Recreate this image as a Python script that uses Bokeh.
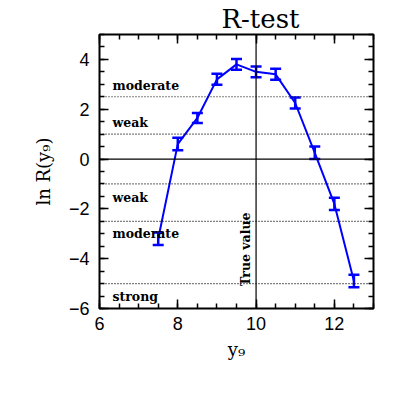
import numpy as np
from bokeh.plotting import figure
from bokeh.models import (ColumnDataSource, Whisker, Span, Label, LinearAxis,
                          SingleIntervalTicker, Range1d, TeeHead)
from bokeh.embed import file_html
from bokeh.resources import INLINE

# ---- data ----
y9 = [7.5, 8.0, 8.5, 9.0, 9.5, 10.0, 10.5, 11.0, 11.5, 12.0, 12.5]
lnR = [-3.2, 0.6, 1.65, 3.2, 3.8, 3.5, 3.4, 2.25, 0.25, -1.8, -4.9]
err = [0.25, 0.25, 0.2, 0.22, 0.22, 0.22, 0.22, 0.22, 0.25, 0.25, 0.25]

levels_dotted = [2.5, 1.0, -1.0, -2.5, -5.0]
strength_labels = ["moderate", "weak", "weak", "moderate", "strong"]
strength_y = [2.95, 1.45, -1.55, -3.0, -5.5]
true_value = 10.0

p = figure(width=390, height=390, output_backend="svg", toolbar_location=None,
           x_range=Range1d(6, 13), y_range=Range1d(-6, 5),
           min_border_left=99, min_border_right=17, min_border_top=34,
           min_border_bottom=82, title="R-test", title_location="above")
p.background_fill_color = "white"
p.border_fill_color = "white"
p.outline_line_color = "black"
p.outline_line_width = 2
p.xgrid.visible = False
p.ygrid.visible = False

p.title.text_font = "DejaVu Serif"
p.title.text_font_size = "26px"
p.title.text_font_style = "normal"
p.title.text_color = "black"
p.title.align = "left"
p.title.offset = 122
p.title.standoff = 2
p.title.text_line_height = 1.0

def style_axis(ax, show_labels=True):
    ax.ticker = SingleIntervalTicker(interval=2, num_minor_ticks=4)
    ax.major_tick_in = 9
    ax.major_tick_out = 0
    ax.minor_tick_in = 5
    ax.minor_tick_out = 0
    ax.major_tick_line_width = 1.5
    ax.minor_tick_line_width = 1.5
    ax.axis_line_color = None
    ax.major_label_text_font = "Liberation Sans"
    ax.major_label_text_font_size = "18px" if show_labels else "0px"
    ax.major_label_text_color = "black"
    if not show_labels:
        ax.major_label_text_alpha = 0
        ax.major_label_standoff = 0

style_axis(p.xaxis[0])
style_axis(p.yaxis[0])
p.xaxis[0].major_label_standoff = 8
p.yaxis[0].major_label_standoff = 10
p.xaxis.axis_label = "y₉"
p.yaxis.axis_label = "ln R(y₉)"
for ax in (p.xaxis[0], p.yaxis[0]):
    ax.axis_label_text_font = "DejaVu Serif"
    ax.axis_label_text_font_size = "18px"
    ax.axis_label_text_font_style = "normal"
    ax.axis_label_text_color = "black"
p.xaxis[0].axis_label_standoff = 6
p.yaxis[0].axis_label_standoff = 12

top_ax = LinearAxis()
right_ax = LinearAxis()
style_axis(top_ax, False)
style_axis(right_ax, False)
p.add_layout(top_ax, "above")
p.add_layout(right_ax, "right")

# reference lines
p.add_layout(Span(location=0, dimension="width", line_color="black", line_width=1.2))
p.add_layout(Span(location=true_value, dimension="height", line_color="black", line_width=1.2))
for lv in levels_dotted:
    p.add_layout(Span(location=lv, dimension="width", line_color="black",
                      line_width=1.2, line_dash="1 2"))

for txt, yy in zip(strength_labels, strength_y):
    p.add_layout(Label(x=6.33, y=yy, text=txt, text_font="DejaVu Serif",
                       text_font_style="bold", text_font_size="12.5px",
                       text_baseline="middle", text_align="left", text_color="black"))

p.add_layout(Label(x=true_value, y=-5.1, x_offset=-3, text="True value",
                   angle=np.pi / 2, text_align="left", text_baseline="bottom",
                   text_font="DejaVu Serif", text_font_style="bold",
                   text_font_size="12.5px", text_color="black"))

# data
src = ColumnDataSource(dict(x=y9, y=lnR,
                            lo=[a - b for a, b in zip(lnR, err)],
                            hi=[a + b for a, b in zip(lnR, err)]))
p.line("x", "y", source=src, line_color="#0000ff", line_width=2)
wh = Whisker(base="x", lower="lo", upper="hi", source=src,
             line_color="#0000ff", line_width=2.5,
             upper_head=TeeHead(size=11, line_color="#0000ff", line_width=2.5),
             lower_head=TeeHead(size=11, line_color="#0000ff", line_width=2.5))
p.add_layout(wh)

open("out.html", "w").write(file_html(p, INLINE))
